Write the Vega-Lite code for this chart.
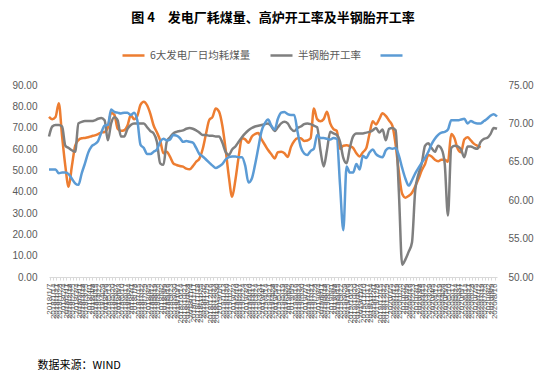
{
"$schema": "https://vega.github.io/schema/vega-lite/v6.json",
"width": 448, "height": 192,
"autosize": {"type": "none"},
"padding": {"left": 49, "top": 85, "right": 53, "bottom": 99},
"background": "white",
"title": {"text": "图 4\u3000发电厂耗煤量、高炉开工率及半钢胎开工率", "font": "Noto Sans CJK SC", "fontSize": 13, "fontWeight": "bold", "color": "#000000", "anchor": "middle", "offset": 18},
"config": {"view": {"stroke": null}},
"data": {"values": [
{"日期":"2018-01-05","耗煤量":75.1,"半钢胎开工率":68.3,"高炉开工率":64.0},
{"日期":"2018-01-12","耗煤量":74.0,"半钢胎开工率":69.6,"高炉开工率":64.0},
{"日期":"2018-01-19","耗煤量":75.0,"半钢胎开工率":69.8,"高炉开工率":64.0},
{"日期":"2018-01-26","耗煤量":81.5,"半钢胎开工率":69.8,"高炉开工率":63.5},
{"日期":"2018-02-02","耗煤量":66.0,"半钢胎开工率":69.6,"高炉开工率":63.6},
{"日期":"2018-02-09","耗煤量":52.0,"半钢胎开工率":67.1,"高炉开工率":63.6},
{"日期":"2018-02-16","耗煤量":42.3,"半钢胎开工率":66.8,"高炉开工率":63.4},
{"日期":"2018-02-23","耗煤量":52.0,"半钢胎开工率":66.5,"高炉开工率":62.8},
{"日期":"2018-03-02","耗煤量":61.5,"半钢胎开工率":66.3,"高炉开工率":62.2},
{"日期":"2018-03-09","耗煤量":64.2,"半钢胎开工率":70.0,"高炉开工率":62.0},
{"日期":"2018-03-16","耗煤量":65.0,"半钢胎开工率":70.2,"高炉开工率":63.5},
{"日期":"2018-03-23","耗煤量":65.2,"半钢胎开工率":70.3,"高炉开工率":64.8},
{"日期":"2018-03-30","耗煤量":65.5,"半钢胎开工率":70.3,"高炉开工率":66.2},
{"日期":"2018-04-06","耗煤量":66.0,"半钢胎开工率":70.3,"高炉开工率":67.0},
{"日期":"2018-04-13","耗煤量":66.4,"半钢胎开工率":70.4,"高炉开工率":67.3},
{"日期":"2018-04-20","耗煤量":67.0,"半钢胎开工率":70.6,"高炉开工率":67.7},
{"日期":"2018-04-27","耗煤量":67.8,"半钢胎开工率":70.7,"高炉开工率":68.8},
{"日期":"2018-05-04","耗煤量":68.0,"半钢胎开工率":70.4,"高炉开工率":69.7},
{"日期":"2018-05-11","耗煤量":70.0,"半钢胎开工率":67.8,"高炉开工率":69.8},
{"日期":"2018-05-18","耗煤量":77.0,"半钢胎开工率":70.0,"高炉开工率":71.8},
{"日期":"2018-05-25","耗煤量":76.0,"半钢胎开工率":70.8,"高炉开工率":71.5},
{"日期":"2018-06-01","耗煤量":69.5,"半钢胎开工率":70.4,"高炉开工率":71.4},
{"日期":"2018-06-08","耗煤量":68.5,"半钢胎开工率":68.3,"高炉开工率":71.3},
{"日期":"2018-06-15","耗煤量":68.8,"半钢胎开工率":68.3,"高炉开工率":71.4},
{"日期":"2018-06-22","耗煤量":71.0,"半钢胎开工率":69.3,"高炉开工率":71.4},
{"日期":"2018-06-29","耗煤量":75.9,"半钢胎开工率":69.8,"高炉开工率":71.1},
{"日期":"2018-07-06","耗煤量":74.0,"半钢胎开工率":70.0,"高炉开工率":71.4},
{"日期":"2018-07-13","耗煤量":75.5,"半钢胎开工率":70.0,"高炉开工率":70.4},
{"日期":"2018-07-20","耗煤量":80.8,"半钢胎开工率":70.0,"高炉开工率":67.2},
{"日期":"2018-07-27","耗煤量":82.2,"半钢胎开工率":70.0,"高炉开工率":66.8},
{"日期":"2018-08-03","耗煤量":80.5,"半钢胎开工率":69.5,"高炉开工率":66.0},
{"日期":"2018-08-10","耗煤量":76.5,"半钢胎开工率":69.0,"高炉开工率":66.0},
{"日期":"2018-08-17","耗煤量":71.0,"半钢胎开工率":68.7,"高炉开工率":66.3},
{"日期":"2018-08-24","耗煤量":67.8,"半钢胎开工率":67.6,"高炉开工率":66.6},
{"日期":"2018-08-31","耗煤量":64.0,"半钢胎开工率":64.8,"高炉开工率":67.6},
{"日期":"2018-09-07","耗煤量":58.0,"半钢胎开工率":64.6,"高炉开工率":68.0},
{"日期":"2018-09-14","耗煤量":58.7,"半钢胎开工率":67.6,"高炉开工率":67.8},
{"日期":"2018-09-21","耗煤量":56.4,"半钢胎开工率":68.2,"高炉开工率":67.9},
{"日期":"2018-09-28","耗煤量":53.3,"半钢胎开工率":68.7,"高炉开工率":68.5},
{"日期":"2018-10-05","耗煤量":52.5,"半钢胎开工率":68.9,"高炉开工率":68.4},
{"日期":"2018-10-12","耗煤量":52.0,"半钢胎开工率":69.0,"高炉开工率":68.1},
{"日期":"2018-10-19","耗煤量":51.7,"半钢胎开工率":69.1,"高炉开工率":67.6},
{"日期":"2018-10-26","耗煤量":50.8,"半钢胎开工率":69.3,"高炉开工率":67.7},
{"日期":"2018-11-02","耗煤量":50.5,"半钢胎开工率":69.4,"高炉开工率":67.6},
{"日期":"2018-11-09","耗煤量":52.0,"半钢胎开工率":69.3,"高炉开工率":67.5},
{"日期":"2018-11-16","耗煤量":54.0,"半钢胎开工率":69.1,"高炉开工率":66.8},
{"日期":"2018-11-23","耗煤量":55.5,"半钢胎开工率":68.8,"高炉开工率":66.0},
{"日期":"2018-11-30","耗煤量":60.0,"半钢胎开工率":68.5,"高炉开工率":65.7},
{"日期":"2018-12-07","耗煤量":67.0,"半钢胎开工率":68.5,"高炉开工率":65.3},
{"日期":"2018-12-14","耗煤量":73.6,"半钢胎开工率":68.4,"高炉开工率":64.9},
{"日期":"2018-12-21","耗煤量":75.0,"半钢胎开工率":68.4,"高炉开工率":64.5},
{"日期":"2018-12-28","耗煤量":79.0,"半钢胎开工率":68.3,"高炉开工率":64.2},
{"日期":"2019-01-04","耗煤量":77.5,"半钢胎开工率":68.3,"高炉开工率":64.4},
{"日期":"2019-01-11","耗煤量":71.0,"半钢胎开工率":67.5,"高炉开工率":64.7},
{"日期":"2019-01-18","耗煤量":60.0,"半钢胎开工率":66.3,"高炉开工率":65.3},
{"日期":"2019-01-25","耗煤量":47.0,"半钢胎开工率":65.9,"高炉开工率":65.6},
{"日期":"2019-02-01","耗煤量":37.6,"半钢胎开工率":66.6,"高炉开工率":65.7},
{"日期":"2019-02-08","耗煤量":45.5,"半钢胎开工率":67.0,"高炉开工率":65.7},
{"日期":"2019-02-15","耗煤量":56.4,"半钢胎开工率":67.6,"高炉开工率":65.6},
{"日期":"2019-02-22","耗煤量":65.0,"半钢胎开工率":68.2,"高炉开工率":65.6},
{"日期":"2019-03-01","耗煤量":64.5,"半钢胎开工率":68.7,"高炉开工率":64.5},
{"日期":"2019-03-08","耗煤量":62.9,"半钢胎开工率":69.1,"高炉开工率":62.3},
{"日期":"2019-03-15","耗煤量":65.8,"半钢胎开工率":69.4,"高炉开工率":62.8},
{"日期":"2019-03-22","耗煤量":67.0,"半钢胎开工率":69.6,"高炉开工率":64.6},
{"日期":"2019-03-29","耗煤量":67.5,"半钢胎开工率":69.7,"高炉开工率":66.8},
{"日期":"2019-04-05","耗煤量":64.5,"半钢胎开工率":69.8,"高炉开工率":69.0},
{"日期":"2019-04-12","耗煤量":62.0,"半钢胎开工率":69.9,"高炉开工率":70.0},
{"日期":"2019-04-19","耗煤量":59.5,"半钢胎开工率":70.0,"高炉开工率":70.5},
{"日期":"2019-04-26","耗煤量":57.5,"半钢胎开工率":69.6,"高炉开工率":69.7},
{"日期":"2019-05-03","耗煤量":55.6,"半钢胎开工率":69.0,"高炉开工率":69.2},
{"日期":"2019-05-10","耗煤量":58.5,"半钢胎开工率":69.5,"高炉开工率":70.6},
{"日期":"2019-05-17","耗煤量":58.7,"半钢胎开工率":70.0,"高炉开工率":71.4},
{"日期":"2019-05-24","耗煤量":58.0,"半钢胎开工率":70.2,"高炉开工率":71.5},
{"日期":"2019-05-31","耗煤量":56.3,"半钢胎开工率":70.0,"高炉开工率":71.2},
{"日期":"2019-06-07","耗煤量":61.0,"半钢胎开工率":69.3,"高炉开工率":71.1},
{"日期":"2019-06-14","耗煤量":63.8,"半钢胎开工率":69.0,"高炉开工率":71.1},
{"日期":"2019-06-21","耗煤量":65.0,"半钢胎开工率":69.4,"高炉开工率":68.9},
{"日期":"2019-06-28","耗煤量":65.0,"半钢胎开工率":69.6,"高炉开工率":66.9},
{"日期":"2019-07-05","耗煤量":63.8,"半钢胎开工率":69.9,"高炉开工率":66.1},
{"日期":"2019-07-12","耗煤量":64.0,"半钢胎开工率":70.0,"高炉开工率":65.9},
{"日期":"2019-07-19","耗煤量":65.0,"半钢胎开工率":69.9,"高炉开工率":66.4},
{"日期":"2019-07-26","耗煤量":79.0,"半钢胎开工率":69.7,"高炉开工率":66.7},
{"日期":"2019-08-02","耗煤量":74.0,"半钢胎开工率":69.5,"高炉开工率":68.5},
{"日期":"2019-08-09","耗煤量":73.0,"半钢胎开工率":66.5,"高炉开工率":68.1},
{"日期":"2019-08-16","耗煤量":74.0,"半钢胎开工率":64.4,"高炉开工率":68.1},
{"日期":"2019-08-23","耗煤量":77.5,"半钢胎开工率":66.5,"高炉开工率":68.0},
{"日期":"2019-08-30","耗煤量":72.0,"半钢胎开工率":68.9,"高炉开工率":67.9},
{"日期":"2019-09-06","耗煤量":69.3,"半钢胎开工率":68.7,"高炉开工率":68.1},
{"日期":"2019-09-13","耗煤量":68.5,"半钢胎开工率":68.5,"高炉开工率":68.0},
{"日期":"2019-09-20","耗煤量":60.0,"半钢胎开工率":67.6,"高炉开工率":62.0},
{"日期":"2019-09-27","耗煤量":61.5,"半钢胎开工率":65.5,"高炉开工率":56.1},
{"日期":"2019-10-04","耗煤量":61.7,"半钢胎开工率":64.8,"高炉开工率":64.4},
{"日期":"2019-10-11","耗煤量":61.3,"半钢胎开工率":66.8,"高炉开工率":63.6},
{"日期":"2019-10-18","耗煤量":60.5,"半钢胎开工率":68.3,"高炉开工率":63.6},
{"日期":"2019-10-25","耗煤量":58.0,"半钢胎开工率":68.7,"高炉开工率":64.7},
{"日期":"2019-11-01","耗煤量":56.5,"半钢胎开工率":68.7,"高炉开工率":64.0},
{"日期":"2019-11-08","耗煤量":58.5,"半钢胎开工率":68.7,"高炉开工率":65.8},
{"日期":"2019-11-15","耗煤量":60.3,"半钢胎开工率":68.8,"高炉开工率":65.5},
{"日期":"2019-11-22","耗煤量":67.0,"半钢胎开工率":68.9,"高炉开工率":66.2},
{"日期":"2019-11-29","耗煤量":73.0,"半钢胎开工率":69.1,"高炉开工率":66.6},
{"日期":"2019-12-06","耗煤量":71.5,"半钢胎开工率":69.4,"高炉开工率":66.0},
{"日期":"2019-12-13","耗煤量":74.0,"半钢胎开工率":68.8,"高炉开工率":65.7},
{"日期":"2019-12-20","耗煤量":76.7,"半钢胎开工率":69.2,"高炉开工率":65.6},
{"日期":"2019-12-27","耗煤量":75.5,"半钢胎开工率":67.8,"高炉开工率":66.5},
{"日期":"2020-01-03","耗煤量":73.3,"半钢胎开工率":69.3,"高炉开工率":66.8},
{"日期":"2020-01-10","耗煤量":71.0,"半钢胎开工率":69.4,"高炉开工率":66.7},
{"日期":"2020-01-17","耗煤量":62.0,"半钢胎开工率":69.1,"高炉开工率":66.8},
{"日期":"2020-01-24","耗煤量":49.0,"半钢胎开工率":61.0,"高炉开工率":65.8},
{"日期":"2020-01-31","耗煤量":39.0,"半钢胎开工率":51.6,"高炉开工率":64.2},
{"日期":"2020-02-07","耗煤量":37.2,"半钢胎开工率":52.3,"高炉开工率":62.8},
{"日期":"2020-02-14","耗煤量":38.0,"半钢胎开工率":53.3,"高炉开工率":61.9},
{"日期":"2020-02-21","耗煤量":39.5,"半钢胎开工率":54.5,"高炉开工率":62.6},
{"日期":"2020-02-28","耗煤量":42.5,"半钢胎开工率":61.3,"高炉开工率":63.5},
{"日期":"2020-03-06","耗煤量":46.0,"半钢胎开工率":63.4,"高炉开工率":64.2},
{"日期":"2020-03-13","耗煤量":50.0,"半钢胎开工率":64.8,"高炉开工率":64.9},
{"日期":"2020-03-20","耗煤量":53.0,"半钢胎开工率":67.1,"高炉开工率":65.5},
{"日期":"2020-03-27","耗煤量":57.2,"半钢胎开工率":67.4,"高炉开工率":66.3},
{"日期":"2020-04-03","耗煤量":56.5,"半钢胎开工率":66.8,"高炉开工率":67.3},
{"日期":"2020-04-10","耗煤量":55.0,"半钢胎开工率":66.3,"高炉开工率":68.0},
{"日期":"2020-04-17","耗煤量":54.3,"半钢胎开工率":67.1,"高炉开工率":68.5},
{"日期":"2020-04-24","耗煤量":55.0,"半钢胎开工率":66.7,"高炉开工率":68.8},
{"日期":"2020-05-01","耗煤量":55.0,"半钢胎开工率":64.8,"高炉开工率":68.9},
{"日期":"2020-05-08","耗煤量":54.0,"半钢胎开工率":58.0,"高炉开工率":69.2},
{"日期":"2020-05-15","耗煤量":67.0,"半钢胎开工率":66.8,"高炉开工率":70.4},
{"日期":"2020-05-22","耗煤量":65.0,"半钢胎开工率":67.1,"高炉开工率":70.4},
{"日期":"2020-05-29","耗煤量":60.0,"半钢胎开工率":67.0,"高炉开工率":70.4},
{"日期":"2020-06-05","耗煤量":58.5,"半钢胎开工率":66.6,"高炉开工率":70.5},
{"日期":"2020-06-12","耗煤量":64.5,"半钢胎开工率":65.6,"高炉开工率":70.6},
{"日期":"2020-06-19","耗煤量":65.5,"半钢胎开工率":67.0,"高炉开工率":70.0},
{"日期":"2020-06-26","耗煤量":64.0,"半钢胎开工率":67.0,"高炉开工率":70.3},
{"日期":"2020-07-03","耗煤量":62.4,"半钢胎开工率":66.8,"高炉开工率":70.1},
{"日期":"2020-07-10","耗煤量":61.5,"半钢胎开工率":66.7,"高炉开工率":70.0},
{"日期":"2020-07-17","耗煤量":60.8,"半钢胎开工率":67.6,"高炉开工率":70.0},
{"日期":"2020-07-24","半钢胎开工率":68.0,"高炉开工率":70.3},
{"日期":"2020-07-31","半钢胎开工率":68.1,"高炉开工率":70.6},
{"日期":"2020-08-07","半钢胎开工率":68.6,"高炉开工率":71.0},
{"日期":"2020-08-14","半钢胎开工率":69.4,"高炉开工率":71.2},
{"日期":"2020-08-21","半钢胎开工率":69.3,"高炉开工率":70.9}
]},
"encoding": {
  "x": {"field": "日期", "type": "temporal",
    "scale": {"domain": ["2018-01-05", "2020-08-21"]},
    "axis": {"title": "数据来源：WIND", "titleFont": "Noto Sans CJK SC", "titleFontSize": 11, "titleFontWeight": "normal", "titleColor": "#000000", "titleAnchor": "start", "titleAlign": "left", "titleBaseline": "middle", "titleX": -12, "titleY": 88,
      "format": "%Y/%-m/%-d", "labelAngle": 270, "labelFont": "Liberation Sans", "labelFontSize": 8, "labelColor": "#595959", "labelOverlap": false, "labelFlush": false, "labelBound": false, "labelPadding": 3,
      "tickCount": {"interval": "week", "step": 1}, "tickSize": 3, "tickColor": "#d9d9d9", "domainColor": "#d9d9d9", "grid": false}
  }
},
"layer": [
  {
    "mark": {"type": "line", "strokeWidth": 2.5, "interpolate": "monotone"},
    "encoding": {
      "y": {"field": "耗煤量", "type": "quantitative", "scale": {"domain": [0, 90]},
        "axis": {"orient": "left", "title": null, "values": [0,10,20,30,40,50,60,70,80,90], "format": ".2f", "labelFont": "Liberation Sans", "labelFontSize": 10, "labelColor": "#595959", "domain": false, "ticks": false, "grid": false, "labelPadding": 12}},
      "color": {"datum": "6大发电厂日均耗煤量",
        "scale": {"domain": ["6大发电厂日均耗煤量", "半钢胎开工率", "高炉开工率"], "range": ["#ED7D31", "#7F7F7F", "#5B9BD5"]},
        "legend": {"orient": "none", "legendX": 72, "legendY": -42, "direction": "horizontal", "title": null, "symbolType": "stroke", "symbolSize": 484, "symbolStrokeWidth": 2.5, "labelFont": "Noto Sans CJK SC", "labelFontSize": 10.5, "labelColor": "#595959", "labelOffset": 4, "columnPadding": 14, "labelExpr": "datum.label == '高炉开工率' ? '' : datum.label"}}
    }
  },
  {
    "transform": [{"fold": ["半钢胎开工率", "高炉开工率"], "as": ["系列", "数值"]}],
    "mark": {"type": "line", "strokeWidth": 2.5, "interpolate": "monotone"},
    "encoding": {
      "y": {"field": "数值", "type": "quantitative", "scale": {"domain": [50, 75]},
        "axis": {"orient": "right", "title": null, "values": [50,55,60,65,70,75], "format": ".2f", "labelFont": "Liberation Sans", "labelFontSize": 10, "labelColor": "#595959", "domain": false, "ticks": false, "grid": false, "labelPadding": 11}},
      "color": {"field": "系列", "type": "nominal", "title": null,
        "scale": {"domain": ["6大发电厂日均耗煤量", "半钢胎开工率", "高炉开工率"], "range": ["#ED7D31", "#7F7F7F", "#5B9BD5"]},
        "legend": {"orient": "none", "legendX": 72, "legendY": -42, "direction": "horizontal", "title": null, "symbolType": "stroke", "symbolSize": 484, "symbolStrokeWidth": 2.5, "labelFont": "Noto Sans CJK SC", "labelFontSize": 10.5, "labelColor": "#595959", "labelOffset": 4, "columnPadding": 14, "labelExpr": "datum.label == '高炉开工率' ? '' : datum.label"}}
    }
  }
],
"resolve": {"scale": {"y": "independent"}}
}
